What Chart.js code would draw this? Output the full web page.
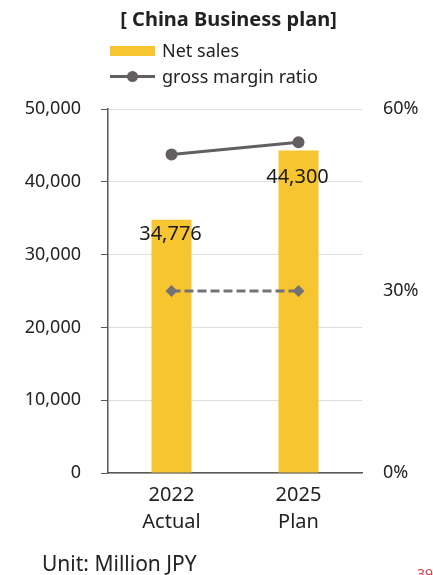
<!DOCTYPE html>
<html>
<head>
<meta charset="utf-8">
<script src="https://cdn.jsdelivr.net/npm/chart.js@4/dist/chart.umd.min.js"></script>
<style>
  html, body {
    margin: 0;
    padding: 0;
    width: 433px;
    height: 575px;
    overflow: hidden;
    background: #fff;
    font-family: 'Noto Sans', 'Open Sans', sans-serif;
    color: #222;
  }
  #wrap {
    position: relative;
    width: 433px;
    height: 575px;
  }
  #chart {
    position: absolute;
    left: 0;
    top: 0;
  }
  .title {
    position: absolute;
    left: 0;
    width: 457px;
    top: 5px;
    text-align: center;
    font-weight: bold;
    font-size: 20px;
    line-height: 28px;
  }
  .legend {
    position: absolute;
    left: 110px;
    top: 38px;
    font-size: 18px;
  }
  .legend .item {
    position: relative;
    height: 26px;
    line-height: 24px;
    padding-left: 52px;
  }
  .legend .box {
    position: absolute;
    left: 0;
    top: 8px;
    width: 45px;
    height: 10px;
  }
  .legend .line {
    position: absolute;
    left: 0;
    top: 11px;
    width: 45px;
    height: 3px;
  }
  .legend .dot {
    position: absolute;
    left: 17px;
    top: 7px;
    width: 11px;
    height: 11px;
    border-radius: 50%;
  }
  .unit {
    position: absolute;
    left: 42px;
    top: 549px;
    font-size: 21px;
    line-height: 28px;
  }
  .page {
    position: absolute;
    left: 417px;
    top: 564px;
    font-size: 14px;
    color: #e0404e;
  }
</style>
</head>
<body>
<div id="wrap">
  <canvas id="chart" width="433" height="575"></canvas>
  <div class="title">[ China Business plan]</div>
  <div class="legend" id="legend"></div>
  <div class="unit">Unit: Million JPY</div>
  <div class="page">39</div>
</div>
<script>
const categories = [['2022', 'Actual'], ['2025', 'Plan']];
const netSales = [34776, 44300];
const grossMarginRatio = [52.5, 54.5];
const refRatio = [30, 30];
const salesTicks = [0, 10000, 20000, 30000, 40000, 50000];
const ratioTicks = [0, 30, 60];

const YELLOW = '#f6c530';
const GRAY = '#625e62';
const DASH_GRAY = '#747276';
const AXIS = '#595959';
const GRID = '#dedede';
const TEXT = '#222222';

// value labels written inside the top of each bar
const labelOffsets = [14, 27];
const barValueLabels = {
  id: 'barValueLabels',
  afterDatasetsDraw(chart) {
    const meta = chart.getDatasetMeta(0);
    const ctx = chart.ctx;
    ctx.save();
    ctx.font = '20px "Noto Sans", sans-serif';
    ctx.fillStyle = '#1a1a1a';
    ctx.textAlign = 'center';
    ctx.textBaseline = 'middle';
    meta.data.forEach((bar, i) => {
      ctx.fillText(netSales[i].toLocaleString('en-US'), bar.x - 1, bar.y + labelOffsets[i]);
    });
    ctx.restore();
  }
};

const chart = new Chart(document.getElementById('chart'), {
  type: 'bar',
  data: {
    labels: categories,
    datasets: [
      {
        type: 'bar',
        label: 'Net sales',
        data: netSales,
        backgroundColor: YELLOW,
        borderWidth: 0,
        barPercentage: 0.315,
        categoryPercentage: 1,
        yAxisID: 'y',
        order: 2
      },
      {
        type: 'line',
        label: 'gross margin ratio',
        data: grossMarginRatio,
        borderColor: GRAY,
        backgroundColor: GRAY,
        borderWidth: 3,
        pointRadius: 6,
        pointBorderWidth: 0,
        yAxisID: 'y1',
        order: 1
      },
      {
        type: 'line',
        label: 'reference ratio',
        data: refRatio,
        borderColor: DASH_GRAY,
        backgroundColor: DASH_GRAY,
        borderWidth: 3,
        borderDash: [9, 4],
        pointStyle: 'rectRot',
        pointRadius: 6,
        pointBorderWidth: 0,
        yAxisID: 'y1',
        order: 1
      }
    ]
  },
  options: {
    responsive: false,
    animation: false,
    layout: {
      padding: { top: 109, bottom: 0, left: 0, right: 0 }
    },
    plugins: {
      legend: { display: false },
      tooltip: { enabled: false }
    },
    scales: {
      x: {
        grid: { display: false, drawTicks: false },
        border: { color: AXIS, width: 1.5 },
        ticks: {
          color: TEXT,
          padding: 9,
          font: { family: 'Noto Sans', size: 20, lineHeight: 1.35 }
        },
        afterFit(scale) { scale.height = 102; }
      },
      y: {
        position: 'left',
        min: 0,
        max: 50000,
        afterBuildTicks(scale) {
          scale.ticks = salesTicks.map(v => ({ value: v }));
        },
        grid: {
          color: GRID,
          tickColor: AXIS,
          tickLength: 7,
          lineWidth: 1
        },
        border: { color: AXIS, width: 1.5 },
        ticks: {
          color: TEXT,
          padding: 20,
          font: { family: 'Noto Sans', size: 18 },
          callback: v => v.toLocaleString('en-US')
        },
        afterFit(scale) { scale.width = 108; }
      },
      y1: {
        position: 'right',
        min: 0,
        max: 60,
        afterBuildTicks(scale) {
          scale.ticks = ratioTicks.map(v => ({ value: v }));
        },
        grid: { display: false, drawTicks: false },
        border: { display: false },
        ticks: {
          color: TEXT,
          padding: 21,
          font: { family: 'Noto Sans', size: 18 },
          callback: v => v + '%'
        },
        afterFit(scale) { scale.width = 71; }
      }
    }
  },
  plugins: [barValueLabels]
});

// legend built from the first two datasets
const legendEl = document.getElementById('legend');
chart.data.datasets.slice(0, 2).forEach(ds => {
  const item = document.createElement('div');
  item.className = 'item';
  if (ds.type === 'bar') {
    item.innerHTML = `<span class="box" style="background:${ds.backgroundColor}"></span>`;
  } else {
    item.innerHTML = `<span class="line" style="background:${ds.borderColor}"></span>` +
      `<span class="dot" style="background:${ds.backgroundColor}"></span>`;
  }
  item.appendChild(document.createTextNode(ds.label));
  legendEl.appendChild(item);
});
</script>
</body>
</html>
